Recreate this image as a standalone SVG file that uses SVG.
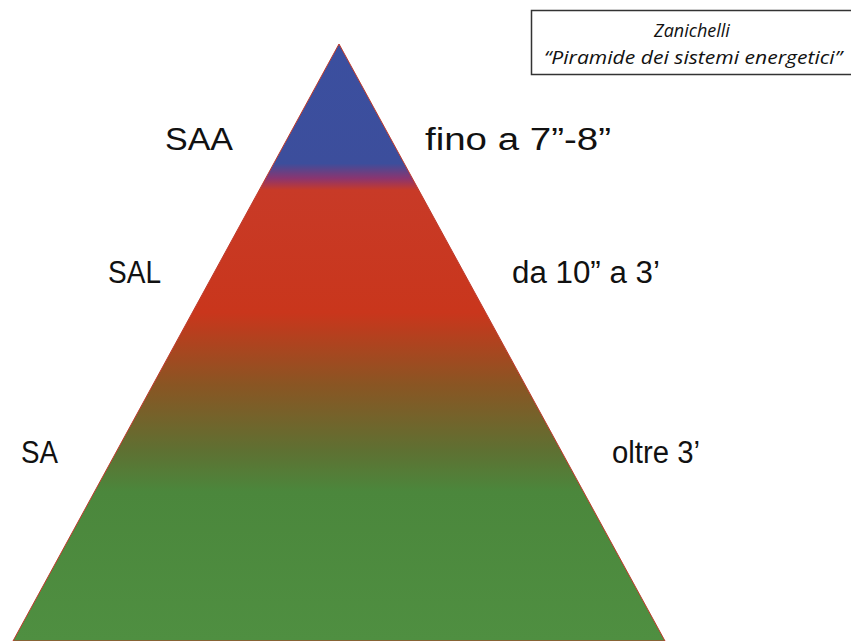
<svg xmlns="http://www.w3.org/2000/svg" width="851" height="641" viewBox="0 0 851 641">
  <style>
    .lbl { font-family: "Liberation Sans", "DejaVu Sans", sans-serif; font-size: 31px; fill: #111; }
    .src { font-family: "Open Sans", "Liberation Sans", sans-serif; font-style: italic; font-size: 18px; fill: #111; text-anchor: middle; }
  </style>
  <defs>
    <linearGradient id="pyr" x1="0" y1="44" x2="0" y2="641" gradientUnits="userSpaceOnUse">
      <stop offset="0" stop-color="#3b4f9f"/>
      <stop offset="0.2" stop-color="#3c4e9c"/>
      <stop offset="0.225" stop-color="#8a3570"/>
      <stop offset="0.245" stop-color="#c83a27"/>
      <stop offset="0.45" stop-color="#c9361c"/>
      <stop offset="0.57" stop-color="#8a5523"/>
      <stop offset="0.68" stop-color="#5f7032"/>
      <stop offset="0.75" stop-color="#4b873c"/>
      <stop offset="1" stop-color="#4f8f41"/>
    </linearGradient>
  </defs>
  <rect width="851" height="641" fill="#ffffff"/>
  <g id="pyramid">
    <polygon points="339,44 665,641 13,641" fill="url(#pyr)" stroke="#c0392b" stroke-width="1"/>
  </g>
  <g id="source">
    <rect x="531.500" y="10.500" width="330" height="64" fill="none" stroke="#333" stroke-width="1.500"/>
    <text class="src" x="692" y="37">Zanichelli</text>
    <text class="src" x="693" y="64" textLength="298" lengthAdjust="spacingAndGlyphs">“Piramide dei sistemi energetici”</text>
  </g>
  <g id="labels">
    <text class="lbl" x="165" y="150" textLength="68" lengthAdjust="spacingAndGlyphs">SAA</text>
    <text class="lbl" x="425" y="150" textLength="186" lengthAdjust="spacingAndGlyphs">fino a 7”-8”</text>
    <text class="lbl" x="108" y="283" textLength="53" lengthAdjust="spacingAndGlyphs">SAL</text>
    <text class="lbl" x="512" y="283" textLength="148" lengthAdjust="spacingAndGlyphs">da 10” a 3’</text>
    <text class="lbl" x="21" y="463" textLength="37" lengthAdjust="spacingAndGlyphs">SA</text>
    <text class="lbl" x="612" y="463" textLength="88" lengthAdjust="spacingAndGlyphs">oltre 3’</text>
  </g>
</svg>
